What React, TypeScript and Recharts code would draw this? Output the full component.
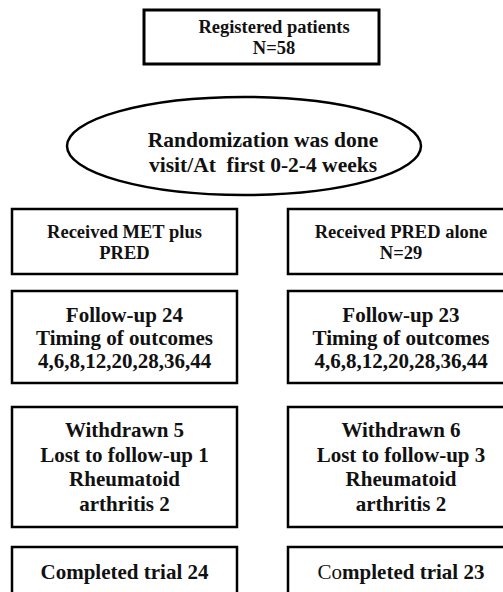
import { ScatterChart, Scatter, XAxis, YAxis } from 'recharts'

// trial flow numbers
const registeredN = 58
const randomizationWeeks = [0, 2, 4]
const armLabels = [
  ['Received MET plus', 'PRED'],
  ['Received PRED alone', 'N=29'],
]
const followUp = [24, 23]
const outcomeWeeks = [4, 6, 8, 12, 20, 28, 36, 44]
const withdrawn = [5, 6]
const lostToFollowUp = [1, 3]
const rheumatoid = [2, 2]
const completed = [24, 23]

const W = 503
const H = 592
const FONT = 'Liberation Serif, Times New Roman, serif'

// box geometry (pixels, chart domain == pixel space)
type Box = {
  x: number; y: number; w: number; h: number
  tx: number; ty: number[]; fs: number; sw?: number
  ellipse?: boolean; lightPrefix?: string
}

const colX = [{ x: 12, w: 225, tx: 124.5 }, { x: 288, w: 226, tx: 401 }]

const topBox: Box = { x: 144, y: 10, w: 235, h: 54, tx: 274, ty: [33, 54], fs: 18.5, sw: 3 }
const randBox: Box = { x: 67, y: 97, w: 354, h: 98, tx: 263, ty: [147, 172], fs: 21.5, ellipse: true }
const rowBoxes = [
  { y: 209, h: 65, ty: [238, 259], fs: 18.5 },
  { y: 291, h: 92, ty: [322, 345, 368], fs: 21 },
  { y: 407, h: 120, ty: [437, 461.5, 486, 510.5], fs: 21 },
  { y: 547, h: 60, ty: [579], fs: 21 },
]

const columnLines = (i: number) => [
  armLabels[i],
  [`Follow-up ${followUp[i]}`, 'Timing of outcomes', outcomeWeeks.join(',')],
  [`Withdrawn ${withdrawn[i]}`, `Lost to follow-up ${lostToFollowUp[i]}`, 'Rheumatoid', `arthritis ${rheumatoid[i]}`],
  [`Completed trial ${completed[i]}`],
]

const nodes: { x: number; y: number; lines: string[]; box: Box }[] = []
const addNode = (box: Box, lines: string[]) =>
  nodes.push({ x: box.x + box.w / 2, y: box.y + box.h / 2, lines, box })

addNode(topBox, ['Registered patients', `N=${registeredN}`])
addNode(randBox, ['Randomization was done', `visit/At  first ${randomizationWeeks.join('-')} weeks`])
;[0, 1].forEach((c) => {
  columnLines(c).forEach((lines, r) => {
    const rb = rowBoxes[r]
    const box: Box = { ...colX[c], ...rb, sw: 2.5 }
    if (c === 1 && r === 3) box.lightPrefix = 'Co'
    addNode(box, lines)
  })
})

// eslint-disable-next-line @typescript-eslint/no-explicit-any
const NodeShape = (props: any) => {
  const { cx, cy, payload } = props
  const b: Box = payload.box
  const left = cx - b.w / 2
  const top = cy - b.h / 2
  const dx = b.tx - (b.x + b.w / 2)
  return (
    <g>
      {b.ellipse ? (
        <ellipse cx={cx} cy={cy} rx={b.w / 2} ry={b.h / 2} fill="#fff" stroke="#000" strokeWidth={2.5} />
      ) : (
        <rect x={left} y={top} width={b.w} height={b.h} fill="#fff" stroke="#000" strokeWidth={b.sw ?? 2.5} />
      )}
      {payload.lines.map((line: string, i: number) => {
        const y = top + (b.ty[i] - b.y)
        const light = b.lightPrefix && line.startsWith(b.lightPrefix)
        return (
          <text
            key={i}
            x={cx + dx}
            y={y}
            textAnchor="middle"
            fill="#111"
            style={{ whiteSpace: 'pre', fontFamily: FONT, fontSize: b.fs, fontWeight: 700 }}
          >
            {light ? (
              <>
                <tspan style={{ fontWeight: 400 }}>{b.lightPrefix}</tspan>
                <tspan>{line.slice(b.lightPrefix!.length)}</tspan>
              </>
            ) : (
              line
            )}
          </text>
        )
      })}
    </g>
  )
}

export default function App() {
  return (
    <div style={{ position: 'absolute', left: 0, top: 0, width: W, height: H, background: '#fff' }}>
      <ScatterChart width={W} height={H} margin={{ top: 0, right: 0, bottom: 0, left: 0 }}>
        <XAxis type="number" dataKey="x" domain={[0, W]} hide />
        <YAxis type="number" dataKey="y" domain={[0, H]} reversed hide />
        <Scatter data={nodes} shape={NodeShape} isAnimationActive={false} />
      </ScatterChart>
    </div>
  )
}
